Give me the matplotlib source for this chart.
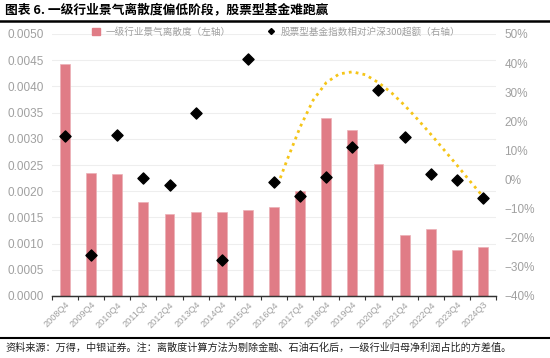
import matplotlib
matplotlib.use("Agg")
import matplotlib.pyplot as plt
from matplotlib.lines import Line2D
from matplotlib.patches import Patch
import numpy as np

plt.rcParams['font.family'] = ['Noto Sans CJK SC', 'DejaVu Sans']

categories = ["2008Q4", "2009Q4", "2010Q4", "2011Q4", "2012Q4", "2013Q4", "2014Q4",
              "2015Q4", "2016Q4", "2017Q4", "2018Q4", "2019Q4", "2020Q4", "2021Q4",
              "2022Q4", "2023Q4", "2024Q3"]
dispersion = [0.00443, 0.00235, 0.00233, 0.00179, 0.00157, 0.00160, 0.00160,
              0.00165, 0.00170, 0.00200, 0.00340, 0.00317, 0.00252, 0.00117,
              0.00127, 0.00087, 0.00093]
excess = [15.0, -25.9, 15.2, 0.5, -1.9, 23.0, -27.6, 41.4, -0.9, -5.6, 1.0,
          11.1, 30.9, 14.7, 1.9, -0.2, -6.2]
# decorative dotted trend curve (category position, % value)
curve_x = [8.24, 8.5, 9.0, 9.5, 10.0, 10.5, 11.0, 11.5, 12.0, 12.5, 13.0, 13.5,
           14.0, 14.5, 15.0, 15.5, 16.0, 16.2]
curve_y = [0.5, 6.7, 18.0, 27.3, 33.3, 36.3, 37.0, 36.0, 33.3, 29.8, 25.5, 20.7,
           15.6, 10.3, 5.0, -0.5, -5.8, -7.0]

bar_label = "一级行业景气离散度（左轴）"
dot_label = "股票型基金指数相对沪深300超额（右轴）"
title = "图表 6. 一级行业景气离散度偏低阶段，股票型基金难跑赢"
footer = "资料来源：万得，中银证券。注：离散度计算方法为剔除金融、石油石化后，一级行业归母净利润占比的方差值。"

W, H = 550, 358
fig = plt.figure(figsize=(W / 100, H / 100), dpi=100)
ax = fig.add_axes([52 / W, 1 - 296 / H, (496 - 52) / W, (296 - 34) / H])
ax2 = ax.twinx()

gray = "#a0a0a0"
bar_color = "#E07C86"
num_font = dict(family=["Liberation Sans", "DejaVu Sans"])
x = np.arange(len(categories))

ax.bar(x, dispersion, width=0.38, color=bar_color, edgecolor="#ecb0b6", linewidth=0.5, zorder=2)
ax.set_xlim(-0.5, len(categories) - 0.5)
ax.set_ylim(0, 0.005)
ax.set_yticks(np.arange(0, 0.00501, 0.0005))
ax.set_yticklabels([f"{v:.4f}" for v in np.arange(0, 0.00501, 0.0005)], **num_font)
ax.grid(axis="y", color="#eeeeee", linewidth=0.8, zorder=0)
ax.set_axisbelow(True)

ax.set_xticks(np.arange(-0.5, len(categories), 1.0))
ax.set_xticklabels([])
ax.set_xticks(x, minor=True)
ax.set_xticklabels(categories, minor=True, rotation=45, ha="right", va="top",
                   rotation_mode="anchor", fontsize=6.6, color=gray, **num_font)
ax.tick_params(axis="x", which="major", length=3, color="#333333", width=0.8, direction="out")
ax.tick_params(axis="x", which="minor", length=0, pad=3)
ax.tick_params(axis="y", length=0, labelsize=8.5, labelcolor=gray, pad=6)

for a in (ax, ax2):
    for s in ("left", "right", "top"):
        a.spines[s].set_visible(False)
    a.spines["bottom"].set_color("#333333")
    a.spines["bottom"].set_linewidth(0.9)

ax2.scatter(x, excess, marker="D", s=32, color="black", zorder=4)
ax2.plot(curve_x, curve_y, linestyle=(0, (1, 1.5)), color="#F5C518", linewidth=2.0, zorder=3)
ax2.set_ylim(-40, 50)
ax2.set_yticks(np.arange(-40, 51, 10))
ax2.set_yticklabels([f"{int(v)}%" if v >= 0 else f"\u2212{int(-v)}%" for v in np.arange(-40, 51, 10)],
                    **num_font)
ax2.tick_params(axis="y", length=0, labelsize=8.5, labelcolor=gray, pad=6)

handles = [Patch(facecolor=bar_color, edgecolor=bar_color),
           Line2D([], [], marker="D", color="black", linestyle="none", markersize=3)]
leg = ax2.legend(handles, [bar_label, dot_label], loc="upper left",
                 bbox_to_anchor=((90 - 52) / 444, 1.035), ncol=2, frameon=False, fontsize=6.9,
                 handlelength=0.8, handleheight=0.8, columnspacing=3.8, handletextpad=0.6,
                 borderaxespad=0, borderpad=0.2)
for t in leg.get_texts():
    t.set_color(gray)

fig.text(5 / W, 1 - 10 / H, title, fontsize=9.2, fontweight="bold", va="center", ha="left", color="black")
fig.add_artist(Line2D([0, 1], [1 - 21 / H, 1 - 21 / H], color="black", linewidth=1.8))
fig.add_artist(Line2D([0, 1], [1 - 338 / H, 1 - 338 / H], color="black", linewidth=1.5))
fig.text(5 / W, 1 - 348 / H, footer, fontsize=7.3, va="center", ha="left", color="#222222")

fig.savefig("out.png", dpi=100)
